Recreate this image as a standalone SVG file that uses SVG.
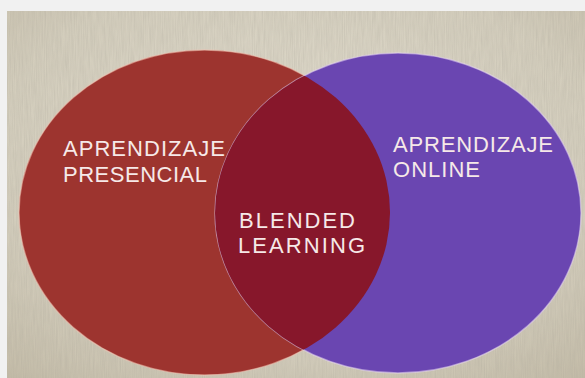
<svg xmlns="http://www.w3.org/2000/svg" width="585" height="378" viewBox="0 0 585 378">
  <defs>
    <filter id="paper" x="0" y="0" width="100%" height="100%">
      <feTurbulence type="fractalNoise" baseFrequency="0.9 0.04" numOctaves="3" seed="4" result="n"/>
      <feColorMatrix in="n" type="matrix" values="0 0 0 0 0.35  0 0 0 0 0.33  0 0 0 0 0.28  0 0 0 0.35 -0.08" result="t"/>
      <feComposite in="t" in2="SourceGraphic" operator="in"/>
    </filter>
    <radialGradient id="bg" cx="0.5" cy="0.4" r="0.8">
      <stop offset="0" stop-color="#e0dbcd"/>
      <stop offset="0.65" stop-color="#d3cdbc"/>
      <stop offset="1" stop-color="#c2baa6"/>
    </radialGradient>
    <clipPath id="clipPurple">
      <ellipse cx="398" cy="213" rx="183" ry="160"/>
    </clipPath>
  </defs>
  <style>
    .lbl { font-family: "Liberation Sans", Arial, sans-serif; font-size: 22px; fill: #f6e9e8; }
    .edge { stroke-width: 1.4; stroke-opacity: 0.55; }
  </style>
  <rect x="0" y="0" width="585" height="378" fill="#f1f1f1"/>
  <g id="background">
    <rect x="7" y="11" width="578" height="367" fill="url(#bg)"/>
    <rect x="7" y="11" width="578" height="367" fill="#000" filter="url(#paper)"/>
  </g>
  <g id="presencial">
    <ellipse cx="204.5" cy="212.5" rx="185.5" ry="162.5" fill="#9d342f" class="edge" stroke="#f2c3b3"/>
    <text class="lbl" x="63" y="156" textLength="162" lengthAdjust="spacing">APRENDIZAJE</text>
    <text class="lbl" x="63" y="182" textLength="144" lengthAdjust="spacing">PRESENCIAL</text>
  </g>
  <g id="online">
    <ellipse cx="398" cy="213" rx="183" ry="160" fill="#6a46b1" class="edge" stroke="#e6d6f2"/>
    <text class="lbl" x="393" y="152" textLength="160" lengthAdjust="spacing">APRENDIZAJE</text>
    <text class="lbl" x="393" y="177" textLength="87" lengthAdjust="spacing">ONLINE</text>
  </g>
  <g id="blended">
    <ellipse cx="204.5" cy="212.5" rx="185.5" ry="162.5" fill="#87172b" clip-path="url(#clipPurple)"/>
    <text class="lbl" x="239" y="228" textLength="116" lengthAdjust="spacing">BLENDED</text>
    <text class="lbl" x="238" y="253" textLength="127" lengthAdjust="spacing">LEARNING</text>
  </g>
  <g id="connectors"/>
</svg>
